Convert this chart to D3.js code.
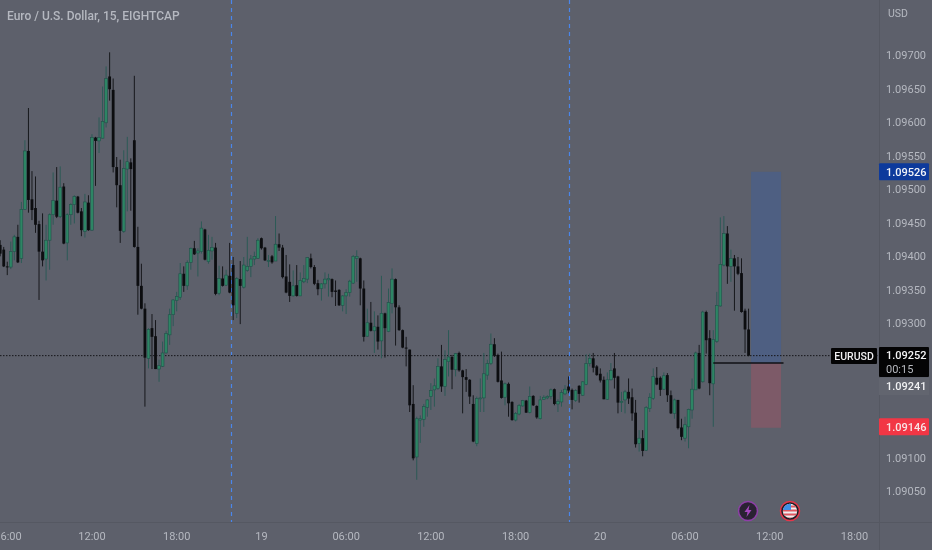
<!DOCTYPE html>
<html><head><meta charset="utf-8">
<script src="https://cdn.jsdelivr.net/npm/d3@7"></script>
<style>html,body{margin:0;padding:0;background:#5d606b;overflow:hidden}svg{display:block;filter:blur(0.35px)}text{font-family:Roboto,sans-serif}</style>
</head><body><svg id="c" width="932" height="550"></svg>
<script>
// Candle values, in points above 1.09000 (1 point = 0.00001), one entry per 15-minute bar
const opens=[417,410,385,384,407,429,397,470,557,485,472,448,407,396,424,462,483,459,504,420,462,477,489,467,437,480,439,577,572,576,599,668,648,533,506,437,530,540,573,414,356,322,248,293,281,232,236,256,283,313,334,339,374,356,391,412,405,407,440,392,408,413,345,367,357,371,
387,315,366,354,379,385,396,397,427,413,393,400,393,418,413,370,362,341,357,341,362,366,397,384,360,352,359,365,366,349,350,327,341,346,360,397,397,352,281,301,289,295,274,315,288,330,366,324,290,264,261,180,101,156,157,175,191,201,203,236,206,243,250,231,256,
230,220,216,180,121,188,189,223,240,269,253,215,190,210,183,156,165,177,185,167,192,177,158,187,189,191,202,180,183,195,206,201,185,207,193,209,240,248,236,225,216,187,216,233,221,182,186,198,190,167,121,129,111,173,188,219,219,202,223,193,166,186,145,129,146,
171,201,256,213,317,278,210,273,326,387,434,385,397,385,375,319,291];
const highs=[424,414,392,422,432,447,481,573,621,527,519,453,464,447,464,525,533,534,509,464,479,491,490,472,493,491,582,578,607,653,683,704,665,548,544,558,578,546,669,444,389,330,293,314,305,246,273,289,322,336,347,390,385,394,413,423,412,452,441,432,429,420,386,385,380,420,
399,369,393,399,429,402,407,427,428,414,402,402,460,434,417,402,388,379,387,376,387,399,404,387,365,360,376,374,367,364,351,342,351,365,402,409,398,364,322,332,318,312,371,316,352,382,367,327,291,280,261,208,161,163,180,187,211,218,248,268,260,290,253,256,258,
231,232,217,193,191,218,256,246,285,278,255,258,212,212,184,168,180,186,186,206,193,178,192,193,193,203,203,187,201,208,221,203,202,208,214,254,255,256,238,233,221,227,241,256,222,198,201,218,203,186,141,141,177,196,233,235,221,227,226,200,188,186,158,161,173,
218,258,268,319,319,290,290,347,458,460,445,410,402,399,397,322,322];
const lows=[400,384,372,381,394,390,390,469,465,454,435,335,385,364,380,447,457,457,418,394,447,449,464,430,428,438,438,505,554,576,592,632,525,473,420,435,467,468,413,313,321,176,233,232,232,213,235,255,268,296,318,335,347,350,380,402,370,404,394,389,395,342,342,355,356,345,
305,308,299,352,377,369,387,396,410,393,384,389,393,408,367,345,332,340,340,341,360,360,382,357,342,334,352,340,339,326,326,318,314,340,359,362,327,273,280,288,256,261,248,249,287,315,267,289,263,236,168,96,67,122,146,161,171,176,201,198,192,221,202,221,228,
166,198,180,123,117,168,168,216,238,250,212,188,178,161,155,154,163,176,167,166,177,158,157,186,187,187,178,168,176,193,196,172,183,182,192,208,236,227,222,212,187,186,215,203,166,168,166,180,155,115,109,102,110,168,186,208,192,201,183,165,158,142,126,124,114,
158,201,202,212,255,193,146,271,325,385,359,362,319,372,316,256,251];
const closes=[404,385,384,407,429,391,470,557,484,469,447,407,394,424,462,483,459,503,419,462,477,489,465,439,481,439,577,572,577,601,665,649,533,506,438,531,541,530,414,356,322,249,291,280,232,237,256,285,313,335,340,374,356,391,412,403,408,442,395,409,413,344,367,356,372,346,
327,367,356,387,385,396,400,424,412,394,394,391,418,413,369,346,341,356,341,364,367,398,384,359,351,359,366,367,347,347,327,341,346,363,400,400,352,280,301,289,295,273,315,293,331,366,324,290,264,263,178,99,158,158,176,186,200,207,236,206,246,250,231,255,230,
220,216,191,124,188,189,225,240,269,252,213,189,210,181,156,166,178,185,167,191,178,160,186,190,191,201,180,184,197,202,200,186,200,195,213,240,248,234,223,215,187,216,230,219,182,184,198,188,166,120,129,110,175,190,221,209,201,222,193,166,186,144,131,149,172,
202,256,203,317,275,211,276,327,388,434,385,397,385,374,317,291,252];
// Bar indices for time axis ticks and their labels
const timeTickBars=[26,50,74,98,122,146,170,194,218,242];
const timeTickLabels=["12:00","18:00","19","06:00","12:00","18:00","20","06:00","12:00","18:00"];
const clippedTimeLabel="6:00";
const sessionBars=[65.4,161.2];
// Price axis
const priceTicks=[700,650,600,550,500,450,400,350,300,100,50];
const priceTickLabels=["1.09700","1.09650","1.09600","1.09550","1.09500","1.09450","1.09400","1.09350","1.09300","1.09100","1.09050"];
const lastPrice=252, entryPrice=241, targetPrice=526, stopPrice=146;
const positionBars=[212.7,221.2], entryLineBars=[202,221.9];

const PW=880, PH=522;
const svg=d3.select("#c");
const x=d3.scaleLinear().domain([0,213]).range([0.2,752.1]);
const y=d3.scaleLinear().domain([700,50]).range([55,491.2]);

svg.append("rect").attr("width",932).attr("height",550).attr("fill","#5d606b");

// session separators
svg.append("g").selectAll("line").data(sessionBars).join("line")
  .attr("x1",d=>Math.round(x(d))+.5).attr("x2",d=>Math.round(x(d))+.5).attr("y1",0).attr("y2",PH)
  .attr("stroke","#4a86ec").attr("stroke-width",1.2).attr("stroke-dasharray","4 4");

// position tool
svg.append("rect").attr("x",x(positionBars[0])).attr("width",x(positionBars[1])-x(positionBars[0]))
  .attr("y",y(targetPrice)).attr("height",y(entryPrice)-y(targetPrice)).attr("fill","#4e5f82");
svg.append("rect").attr("x",x(positionBars[0])).attr("width",x(positionBars[1])-x(positionBars[0]))
  .attr("y",y(entryPrice)).attr("height",y(stopPrice)-y(entryPrice)+1).attr("fill","#7d5a68");

// last price line
svg.append("line").attr("x1",0).attr("x2",PW).attr("y1",y(lastPrice)).attr("y2",y(lastPrice))
  .attr("stroke","#15161a").attr("stroke-width",1).attr("stroke-dasharray","1.5 1.5");

// candles
const bars=d3.range(opens.length);
const isUp=i=>closes[i]>=opens[i];
const G=svg.append("g");
G.selectAll(".wick").data(bars).join("line").attr("class","wick")
  .attr("x1",i=>x(i)).attr("x2",i=>x(i)).attr("y1",i=>y(highs[i])).attr("y2",i=>y(lows[i]))
  .attr("stroke",i=>isUp(i)?"#2c5a56":"#17181c").attr("stroke-width",1);
G.selectAll(".body").data(bars).join("rect").attr("class","body")
  .attr("x",i=>x(i)-1.4).attr("width",2.8)
  .attr("y",i=>y(Math.max(opens[i],closes[i])))
  .attr("height",i=>Math.max(1,y(Math.min(opens[i],closes[i]))-y(Math.max(opens[i],closes[i]))))
  .attr("fill",i=>isUp(i)?"#2d8564":"#0c0d10")
  .attr("stroke",i=>isUp(i)?"#234f4a":"none").attr("stroke-width",.6);

// entry line
svg.append("line").attr("x1",x(entryLineBars[0])).attr("x2",x(entryLineBars[1]))
  .attr("y1",y(entryPrice)).attr("y2",y(entryPrice)).attr("stroke","#101114").attr("stroke-width",1.3);

// panes
svg.append("line").attr("x1",879.5).attr("x2",879.5).attr("y1",0).attr("y2",550).attr("stroke","#555862");
svg.append("line").attr("x1",0).attr("x2",932).attr("y1",522.5).attr("y2",522.5).attr("stroke","#555862");

// title
svg.append("text").attr("x",7).attr("y",20).attr("fill","#b5b8c0").attr("font-size",12).attr("font-weight",500)
  .text("Euro / U.S. Dollar, 15, EIGHTCAP");
svg.append("text").attr("x",888).attr("y",17).attr("fill","#b5b8c0").attr("font-size",10.5).text("USD");

// price axis
svg.append("g").selectAll("text").data(priceTicks).join("text")
  .attr("x",886).attr("y",d=>y(d)+4).attr("fill","#b5b8c0").attr("font-size",11)
  .text((d,i)=>priceTickLabels[i]);

// time axis
svg.append("g").selectAll("text").data(timeTickBars).join("text")
  .attr("x",d=>x(d)).attr("y",540).attr("text-anchor","middle").attr("fill","#b5b8c0").attr("font-size",11)
  .text((d,i)=>timeTickLabels[i]);
svg.append("text").attr("x",0.5).attr("y",540).attr("fill","#b5b8c0").attr("font-size",11).text(clippedTimeLabel);

// price tags
function tag(p,fill,color,label){
  svg.append("rect").attr("x",879).attr("width",50).attr("y",y(p)-8.5).attr("height",17).attr("rx",1).attr("fill",fill);
  svg.append("text").attr("x",886).attr("y",y(p)+4).attr("fill",color).attr("font-size",11).attr("font-weight",500).text(label);
}
tag(targetPrice,"#0d3a9c","#f2f4f8","1.09526");
tag(stopPrice,"#f23645","#f8e4e6","1.09146");
// entry tag
svg.append("rect").attr("x",879).attr("width",50).attr("y",378).attr("height",17).attr("fill","#62656f");
svg.append("text").attr("x",886).attr("y",390).attr("fill","#f0f1f3").attr("font-size",11).attr("font-weight",500).text("1.09241");
// last price tag
svg.append("rect").attr("x",879).attr("width",50).attr("y",347).attr("height",30).attr("rx",1).attr("fill","#040405");
svg.append("text").attr("x",886).attr("y",359).attr("fill","#f4f4f6").attr("font-size",11).attr("font-weight",500).text("1.09252");
svg.append("text").attr("x",886).attr("y",373).attr("fill","#b8bac0").attr("font-size",11).text("00:15");
svg.append("rect").attr("x",831).attr("width",46).attr("y",348).attr("height",16).attr("rx",1).attr("fill","#040405");
svg.append("text").attr("x",854).attr("y",360).attr("text-anchor","middle").attr("fill","#f0f0f2").attr("font-size",10.5).attr("font-weight",500).text("EURUSD");

// event icons
const e1=svg.append("g").attr("transform","translate(748,511)");
e1.append("circle").attr("r",9.5).attr("fill","#2a2233").attr("stroke","#8e3fa8").attr("stroke-width",1.5);
e1.append("path").attr("d","M1.5,-6 L-3.5,1 L-0.5,1 L-1.5,6 L3.5,-1 L0.5,-1 Z").attr("fill","#a347bd");
const e2=svg.append("g").attr("transform","translate(790,511)");
e2.append("circle").attr("r",9.5).attr("fill","#1d1e24").attr("stroke","#e5364a").attr("stroke-width",1.5);
svg.append("clipPath").attr("id","fc").append("circle").attr("cx",790).attr("cy",511).attr("r",7.2);
const f=svg.append("g").attr("clip-path","url(#fc)");
f.append("rect").attr("x",782).attr("y",503).attr("width",16).attr("height",16).attr("fill","#eef0f3");
[505.5,509.5,513.5,517.5].forEach(v=>f.append("rect").attr("x",782).attr("y",v).attr("width",16).attr("height",2).attr("fill","#e0565f"));
f.append("rect").attr("x",782).attr("y",503).attr("width",9).attr("height",7).attr("fill","#3f8fe6");
</script></body></html>
